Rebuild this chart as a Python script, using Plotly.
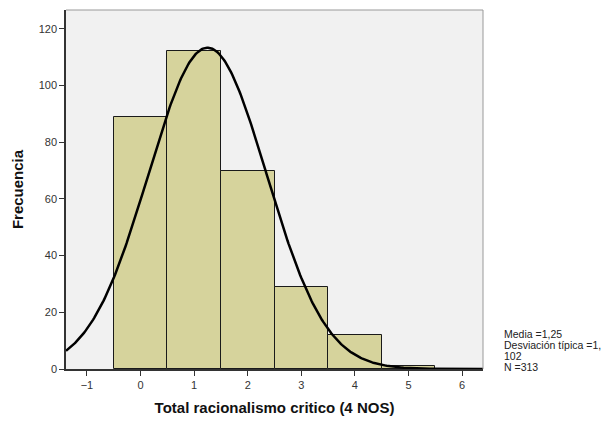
import numpy as np
import plotly.graph_objects as go

# Data
bin_centers = [0, 1, 2, 3, 4, 5]
frequencies = [89, 112, 70, 29, 12, 1]
bin_width = 1.0

# Summary statistics shown in the chart
mean_val = 1.25
sd_val = 1.102
n_val = 313
stats_lines = ["Media =1,25", "Desviación típica =1,", "102", "N =313"]

x_tick_vals = [-1, 0, 1, 2, 3, 4, 5, 6]
y_tick_vals = [0, 20, 40, 60, 80, 100, 120]

# Fitted normal curve from the stated statistics
xs = np.linspace(-1.39, 6.39, 400)
ys = n_val * bin_width / (sd_val * np.sqrt(2 * np.pi)) * np.exp(-0.5 * ((xs - mean_val) / sd_val) ** 2)

fig = go.Figure()
fig.add_trace(go.Bar(
    x=bin_centers, y=frequencies, width=bin_width,
    marker=dict(color="#d6d39c", line=dict(color="#1a1a1a", width=1)),
    hoverinfo="x+y", showlegend=False,
))
fig.add_trace(go.Scatter(
    x=xs, y=ys, mode="lines", line=dict(color="black", width=2.5),
    showlegend=False, hoverinfo="skip",
))

font_family = "Liberation Sans, Arial, sans-serif"
line_y = [0.0975, 0.066, 0.035, 0.005]
annotations = [
    dict(xref="paper", yref="paper", x=1.046, y=yy, xanchor="left", yanchor="middle",
         align="left", showarrow=False, text=txt,
         font=dict(size=10.5, color="#222222", family=font_family))
    for txt, yy in zip(stats_lines, line_y)
]

fig.update_layout(
    width=602, height=413,
    margin=dict(l=58, r=127, t=2, b=52),
    paper_bgcolor="white",
    plot_bgcolor="#f1f1f1",
    bargap=0,
    font=dict(family=font_family, size=11, color="#333333"),
    xaxis=dict(
        range=[-1.39, 6.39], tickvals=x_tick_vals,
        ticks="outside", ticklen=5, tickcolor="#333333",
        showgrid=False, zeroline=False,
        showline=True, linecolor="#333333", linewidth=1.5, mirror=False,
        title=dict(text="<b>Total racionalismo critico (4 NOS)</b>",
                   font=dict(size=15, color="#111111"), standoff=13),
    ),
    yaxis=dict(
        range=[0, 126.6], tickvals=y_tick_vals,
        ticks="outside", ticklen=5, tickcolor="#333333",
        showgrid=False, zeroline=False,
        showline=True, linecolor="#333333", linewidth=1.5,
        title=dict(text="<b>Frecuencia</b>", font=dict(size=15, color="#111111"), standoff=11),
    ),
    shapes=[
        dict(type="line", xref="paper", yref="paper", x0=0, x1=1, y0=1, y1=1,
             line=dict(color="#999999", width=1)),
        dict(type="line", xref="paper", yref="paper", x0=1, x1=1, y0=0, y1=1,
             line=dict(color="#999999", width=1)),
    ],
    annotations=annotations,
)

fig.write_html("out.html")
